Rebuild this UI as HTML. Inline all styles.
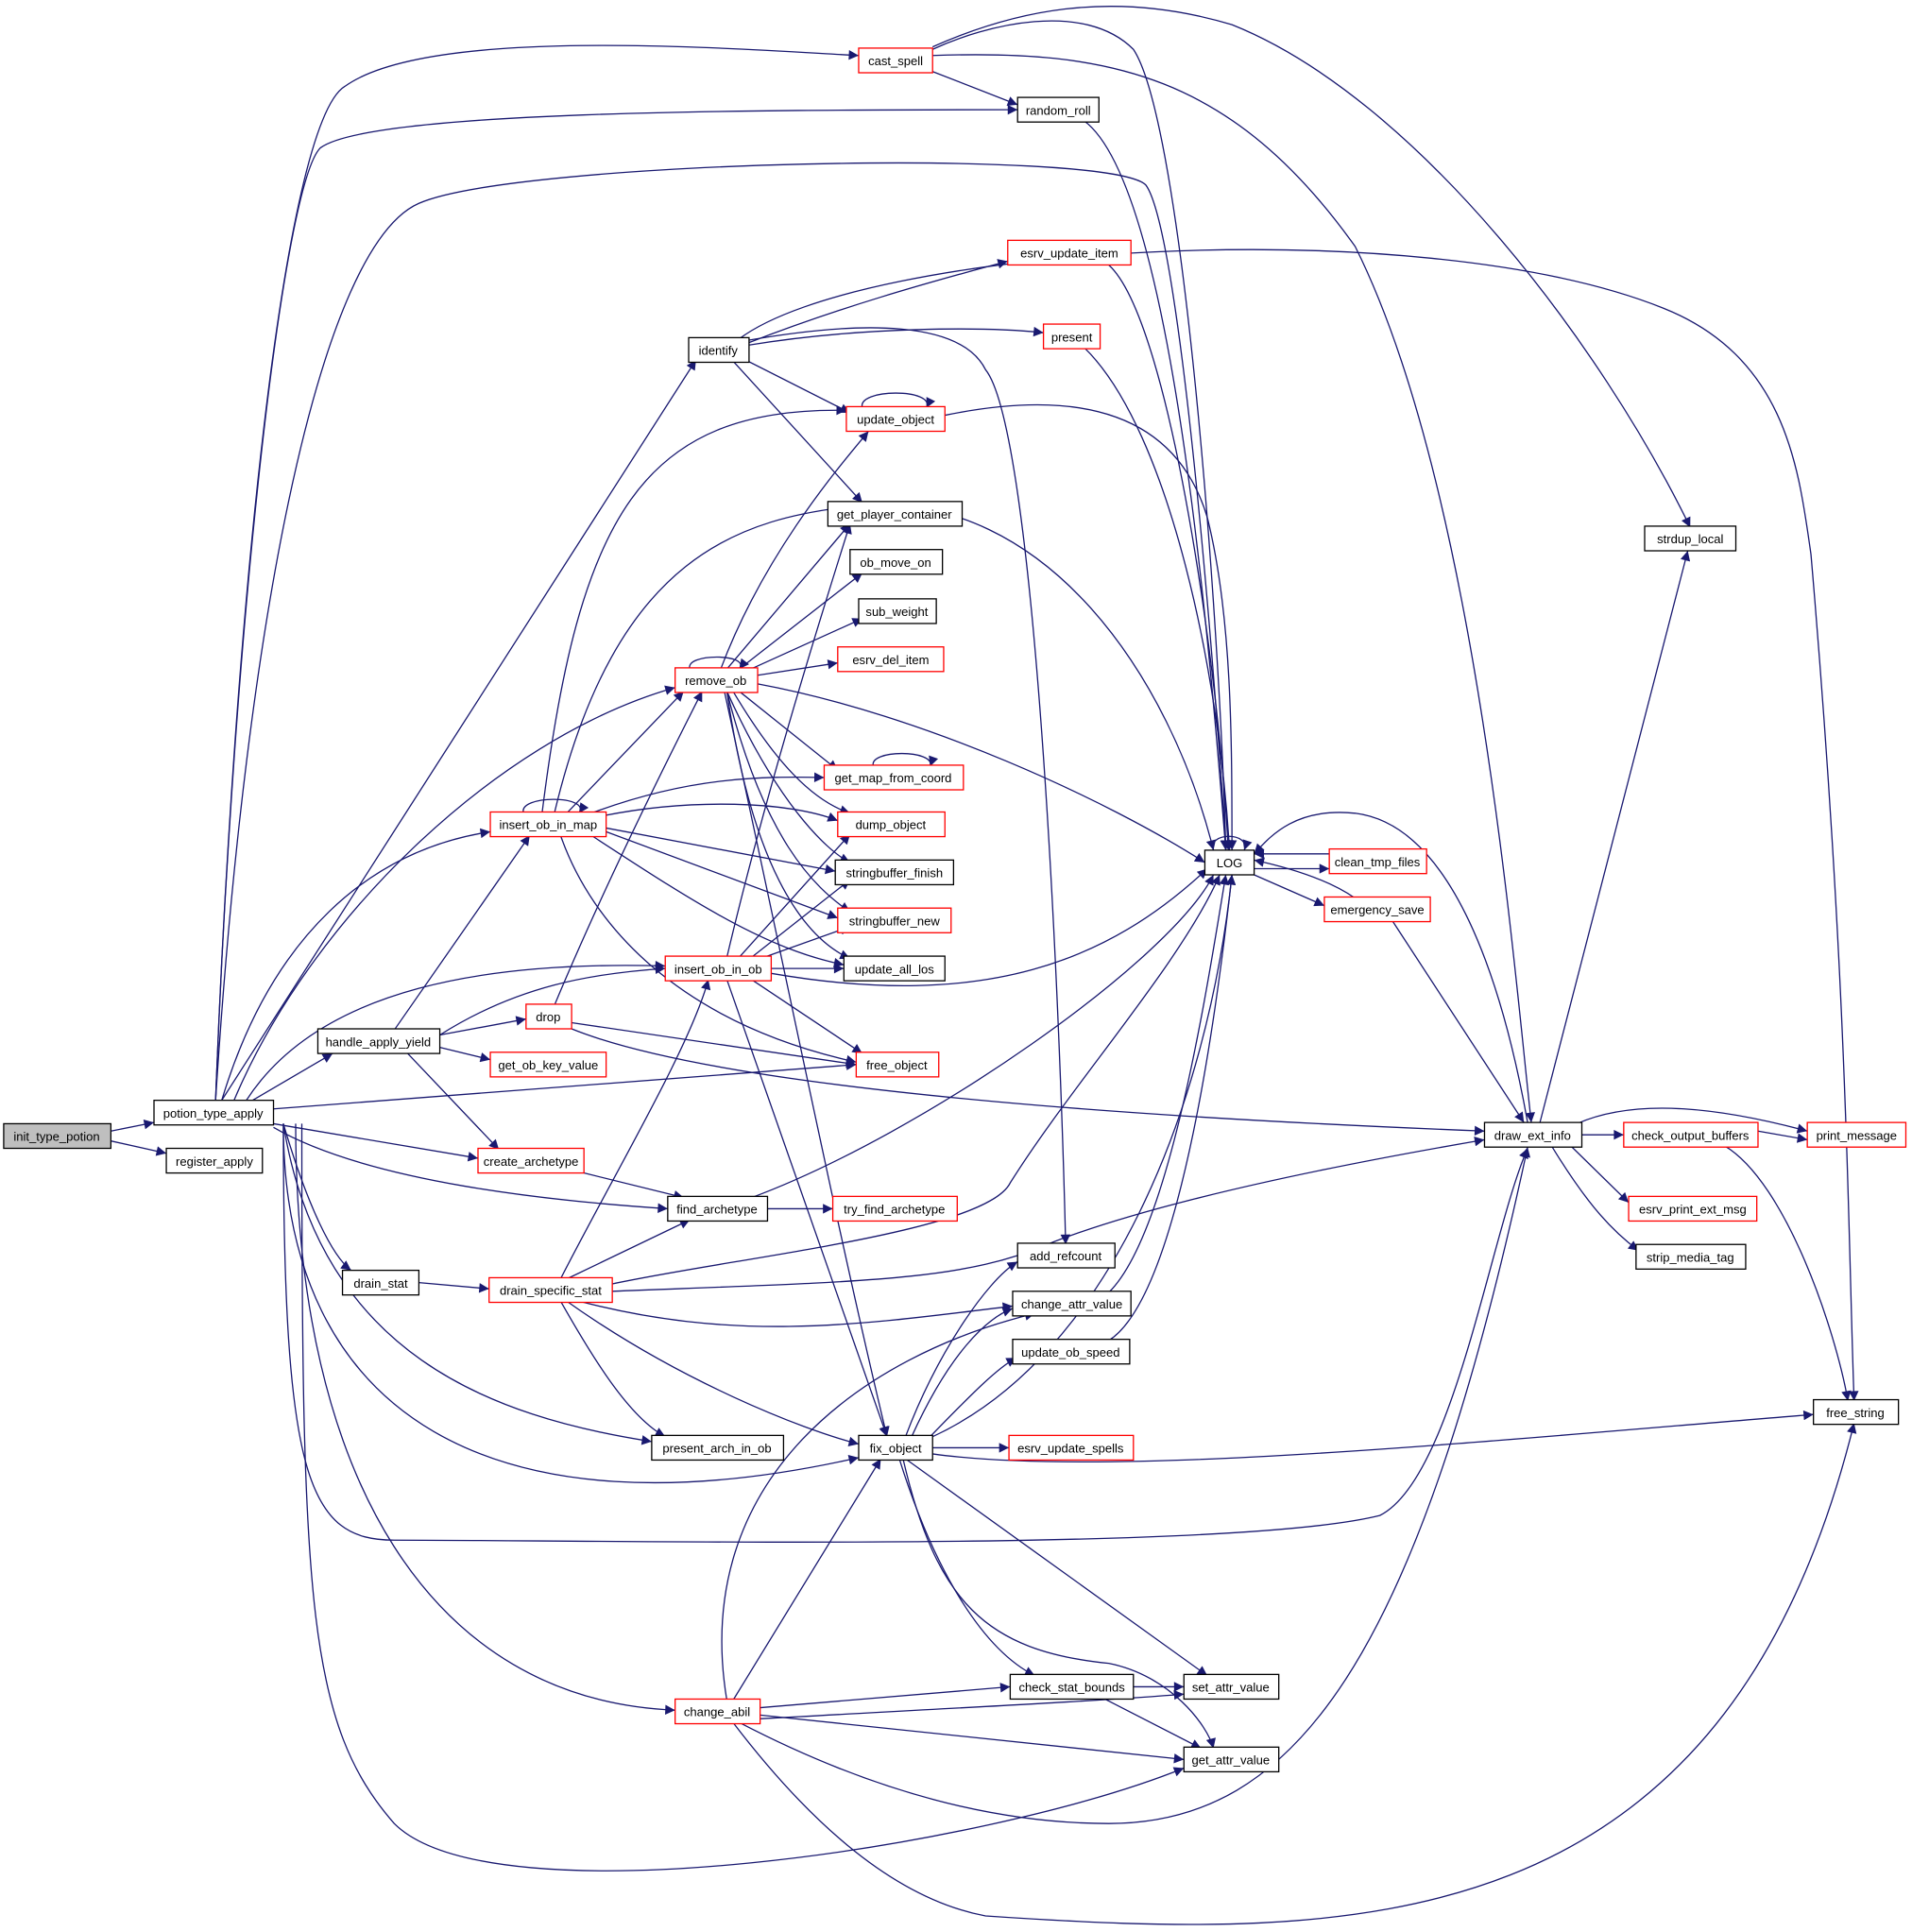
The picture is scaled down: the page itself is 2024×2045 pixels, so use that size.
<!DOCTYPE html>
<html><head><meta charset="utf-8"><style>
html,body{margin:0;padding:0;background:#fff;}
svg{display:block;}
text{font-family:"Liberation Sans",sans-serif;font-size:10px;text-anchor:middle;}
.e{fill:none;stroke:#191970;stroke-width:1;}
rect{fill:#fff;stroke:#000;stroke-width:1;}
rect.r{stroke:#ff0000;}
</style></head><body>
<svg width="2024" height="2045" viewBox="0 0 1552 1568" xmlns="http://www.w3.org/2000/svg">
<defs><marker id="a" viewBox="0 0 10 10" refX="10" refY="5" markerWidth="10" markerHeight="8" markerUnits="userSpaceOnUse" orient="auto"><path d="M0,0L10,5L0,10z" fill="#191970"/></marker></defs>
<g class="e" marker-end="url(#a)">
<path d="M90,918L125,911"/>
<path d="M90,926L135,936"/>
<path d="M175,893C190,500 230,100 280,70C350,20 600,40 697,45"/>
<path d="M175,893C190,500 230,150 260,120C300,90 600,89 826,89"/>
<path d="M175,893C200,500 260,200 340,165C420,130 900,120 930,150C960,190 990,600 995,690"/>
<path d="M180,893L565,292"/>
<path d="M190,893C250,750 400,600 548,558"/>
<path d="M180,893C220,760 300,690 398,675"/>
<path d="M200,893C260,800 400,780 540,784"/>
<path d="M205,893L270,855"/>
<path d="M222,900L695,864"/>
<path d="M222,912L388,940"/>
<path d="M222,915C300,960 450,975 542,981"/>
<path d="M230,912C250,980 270,1020 285,1031"/>
<path d="M230,912C260,1100 400,1150 529,1170"/>
<path d="M230,912C230,1150 400,1250 697,1183"/>
<path d="M230,912C230,1200 250,1250 320,1250C500,1250 1000,1260 1120,1230C1180,1200 1210,1000 1240,932"/>
<path d="M240,912C240,1200 350,1380 548,1388"/>
<path d="M245,912C245,1300 250,1400 320,1480C400,1560 800,1500 961,1435"/>
<path d="M595,293L700,408"/>
<path d="M605,292L690,335"/>
<path d="M608,280C700,265 800,265 847,270"/>
<path d="M608,278C680,250 750,230 818,212"/>
<path d="M608,276C700,260 780,260 800,300C840,350 860,800 865,1010"/>
<path d="M600,275C700,200 1150,170 1350,250C1450,290 1460,380 1470,450C1500,800 1500,1000 1505,1137"/>
<path d="M757,58L826,85"/>
<path d="M757,40C800,20 880,0 920,40C960,100 990,500 995,690"/>
<path d="M757,38C820,10 900,-10 1000,20C1150,80 1300,280 1372,428"/>
<path d="M757,45C900,40 1000,60 1100,200C1200,400 1230,800 1243,911"/>
<path d="M880,98C950,150 980,500 995,690"/>
<path d="M900,215C950,260 990,550 997,690"/>
<path d="M880,282C950,350 990,550 998,690"/>
<path d="M700,331C695,315 760,315 752,331"/>
<path d="M767,337C850,320 950,320 980,420C1000,500 1000,600 1000,690"/>
<path d="M425,660C420,645 480,645 470,660"/>
<path d="M440,660C470,420 520,330 687,333"/>
<path d="M460,660L555,561"/>
<path d="M480,660C560,630 620,630 669,631"/>
<path d="M490,662C560,648 640,650 680,666"/>
<path d="M492,672L678,707"/>
<path d="M492,675L680,745"/>
<path d="M480,678C560,730 620,770 685,783"/>
<path d="M455,678C480,750 550,830 695,862"/>
<path d="M450,660C500,450 600,420 700,410C850,400 950,550 985,690"/>
<path d="M560,543C555,530 610,530 600,543"/>
<path d="M590,543L690,425"/>
<path d="M600,543L700,465"/>
<path d="M605,545L700,502"/>
<path d="M615,548L680,538"/>
<path d="M585,543C620,450 680,380 705,350"/>
<path d="M600,561L680,625"/>
<path d="M595,561C630,620 660,650 690,660"/>
<path d="M590,561C630,650 670,690 690,700"/>
<path d="M590,561C620,680 660,720 690,740"/>
<path d="M590,561C610,700 650,760 690,778"/>
<path d="M588,561C640,800 680,1000 720,1166"/>
<path d="M615,555C750,580 900,650 978,700"/>
<path d="M709,622C704,608 760,608 755,622"/>
<path d="M590,777C620,650 660,520 690,425"/>
<path d="M600,777L690,677"/>
<path d="M620,777L690,752"/>
<path d="M610,777L690,714"/>
<path d="M626,786L685,786"/>
<path d="M610,795L700,855"/>
<path d="M626,790C800,820 900,780 980,705"/>
<path d="M590,795L720,1166"/>
<path d="M450,816C490,720 540,620 570,561"/>
<path d="M464,830L695,864"/>
<path d="M464,835C600,890 1000,910 1205,918"/>
<path d="M320,836L430,678"/>
<path d="M357,840C420,800 480,790 540,786"/>
<path d="M357,840L427,827"/>
<path d="M357,850L398,860"/>
<path d="M330,854L405,933"/>
<path d="M470,951L555,972"/>
<path d="M623,981L676,981"/>
<path d="M610,972C750,920 950,780 985,710"/>
<path d="M340,1041L397,1046"/>
<path d="M455,1038C500,950 560,850 575,795"/>
<path d="M460,1038L560,990"/>
<path d="M497,1042C600,1020 800,1000 820,960C870,880 960,780 990,710"/>
<path d="M497,1048C700,1040 780,1040 850,1010C900,990 1000,960 1205,925"/>
<path d="M470,1056C600,1090 700,1075 822,1060"/>
<path d="M455,1056C480,1100 510,1150 540,1166"/>
<path d="M460,1056C550,1120 650,1160 697,1172"/>
<path d="M735,1166C760,1100 800,1040 826,1024"/>
<path d="M740,1166C770,1100 800,1070 822,1062"/>
<path d="M755,1166C790,1130 810,1110 825,1102"/>
<path d="M757,1166C900,1100 980,900 1000,710"/>
<path d="M757,1175L819,1175"/>
<path d="M757,1180C900,1200 1200,1170 1472,1148"/>
<path d="M735,1184L980,1360"/>
<path d="M730,1184C760,1280 800,1340 840,1360"/>
<path d="M733,1184C760,1300 800,1340 900,1350C950,1360 980,1400 985,1419"/>
<path d="M900,1049C950,1000 980,800 995,710"/>
<path d="M900,1088C960,1050 990,800 1000,710"/>
<path d="M590,1380C560,1200 700,1100 840,1066"/>
<path d="M595,1380L715,1184"/>
<path d="M617,1386L820,1369"/>
<path d="M617,1395C800,1385 900,1380 961,1375"/>
<path d="M617,1392L961,1428"/>
<path d="M600,1398C700,1450 800,1480 900,1480C1050,1480 1150,1350 1240,931"/>
<path d="M595,1398C650,1470 720,1540 800,1555C1100,1575 1400,1580 1505,1155"/>
<path d="M920,1369L961,1369"/>
<path d="M895,1378L975,1419"/>
<path d="M985,690C980,675 1015,675 1010,690"/>
<path d="M1018,705L1079,705"/>
<path d="M1079,693L1018,693"/>
<path d="M1018,710L1075,735"/>
<path d="M1100,729C1080,715 1050,705 1018,698"/>
<path d="M1130,747L1237,911"/>
<path d="M1240,911C1220,800 1180,670 1100,660C1050,655 1030,680 1018,693"/>
<path d="M1250,911L1370,447"/>
<path d="M1284,921L1318,921"/>
<path d="M1280,912C1330,890 1400,900 1467,918"/>
<path d="M1275,930L1322,976"/>
<path d="M1260,931C1290,980 1310,1000 1330,1015"/>
<path d="M1427,918L1467,925"/>
<path d="M1400,930C1450,960 1490,1080 1500,1137"/>
</g>
<g>
<rect x="3" y="912" width="87" height="20" style="fill:#bfbfbf"/><text x="46" y="926">init_type_potion</text>
<rect x="125" y="893" width="97" height="20"/><text x="173" y="907">potion_type_apply</text>
<rect x="135" y="932" width="78" height="20"/><text x="174" y="946">register_apply</text>
<rect class="r" x="697" y="39" width="60" height="20"/><text x="727" y="53">cast_spell</text>
<rect x="826" y="79" width="66" height="20"/><text x="859" y="93">random_roll</text>
<rect x="559" y="274" width="49" height="20"/><text x="583" y="288">identify</text>
<rect class="r" x="818" y="195" width="100" height="20"/><text x="868" y="209">esrv_update_item</text>
<rect class="r" x="847" y="263" width="46" height="20"/><text x="870" y="277">present</text>
<rect class="r" x="687" y="330" width="80" height="20"/><text x="727" y="344">update_object</text>
<rect x="672" y="407" width="109" height="20"/><text x="726" y="421">get_player_container</text>
<rect x="690" y="446" width="75" height="20"/><text x="727" y="460">ob_move_on</text>
<rect x="697" y="486" width="63" height="20"/><text x="728" y="500">sub_weight</text>
<rect class="r" x="680" y="525" width="86" height="20"/><text x="723" y="539">esrv_del_item</text>
<rect class="r" x="548" y="542" width="67" height="20"/><text x="581" y="556">remove_ob</text>
<rect class="r" x="669" y="621" width="113" height="20"/><text x="725" y="635">get_map_from_coord</text>
<rect class="r" x="398" y="659" width="94" height="20"/><text x="445" y="673">insert_ob_in_map</text>
<rect class="r" x="680" y="659" width="87" height="20"/><text x="723" y="673">dump_object</text>
<rect x="678" y="698" width="96" height="20"/><text x="726" y="712">stringbuffer_finish</text>
<rect class="r" x="680" y="737" width="92" height="20"/><text x="726" y="751">stringbuffer_new</text>
<rect x="685" y="776" width="82" height="20"/><text x="726" y="790">update_all_los</text>
<rect class="r" x="540" y="776" width="86" height="20"/><text x="583" y="790">insert_ob_in_ob</text>
<rect x="978" y="690" width="40" height="20"/><text x="998" y="704">LOG</text>
<rect class="r" x="1079" y="689" width="79" height="20"/><text x="1118" y="703">clean_tmp_files</text>
<rect class="r" x="1075" y="728" width="86" height="20"/><text x="1118" y="742">emergency_save</text>
<rect class="r" x="427" y="815" width="37" height="20"/><text x="445" y="829">drop</text>
<rect x="258" y="835" width="99" height="20"/><text x="307" y="849">handle_apply_yield</text>
<rect class="r" x="398" y="854" width="94" height="20"/><text x="445" y="868">get_ob_key_value</text>
<rect class="r" x="695" y="854" width="67" height="20"/><text x="728" y="868">free_object</text>
<rect class="r" x="388" y="932" width="86" height="20"/><text x="431" y="946">create_archetype</text>
<rect x="542" y="971" width="81" height="20"/><text x="582" y="985">find_archetype</text>
<rect class="r" x="676" y="971" width="101" height="20"/><text x="726" y="985">try_find_archetype</text>
<rect x="1205" y="911" width="79" height="20"/><text x="1244" y="925">draw_ext_info</text>
<rect class="r" x="1318" y="911" width="109" height="20"/><text x="1372" y="925">check_output_buffers</text>
<rect class="r" x="1467" y="911" width="80" height="20"/><text x="1507" y="925">print_message</text>
<rect class="r" x="1322" y="971" width="104" height="20"/><text x="1374" y="985">esrv_print_ext_msg</text>
<rect x="1328" y="1010" width="89" height="20"/><text x="1372" y="1024">strip_media_tag</text>
<rect x="1335" y="427" width="74" height="20"/><text x="1372" y="441">strdup_local</text>
<rect x="278" y="1031" width="62" height="20"/><text x="309" y="1045">drain_stat</text>
<rect class="r" x="397" y="1037" width="100" height="20"/><text x="447" y="1051">drain_specific_stat</text>
<rect x="826" y="1009" width="79" height="20"/><text x="865" y="1023">add_refcount</text>
<rect x="822" y="1048" width="96" height="20"/><text x="870" y="1062">change_attr_value</text>
<rect x="822" y="1087" width="95" height="20"/><text x="869" y="1101">update_ob_speed</text>
<rect x="529" y="1165" width="107" height="20"/><text x="582" y="1179">present_arch_in_ob</text>
<rect x="697" y="1165" width="60" height="20"/><text x="727" y="1179">fix_object</text>
<rect class="r" x="819" y="1165" width="101" height="20"/><text x="869" y="1179">esrv_update_spells</text>
<rect x="1472" y="1136" width="69" height="20"/><text x="1506" y="1150">free_string</text>
<rect x="820" y="1359" width="100" height="20"/><text x="870" y="1373">check_stat_bounds</text>
<rect x="961" y="1359" width="77" height="20"/><text x="999" y="1373">set_attr_value</text>
<rect class="r" x="548" y="1379" width="69" height="20"/><text x="582" y="1393">change_abil</text>
<rect x="961" y="1418" width="77" height="20"/><text x="999" y="1432">get_attr_value</text>
</g>
</svg>
</body></html>
